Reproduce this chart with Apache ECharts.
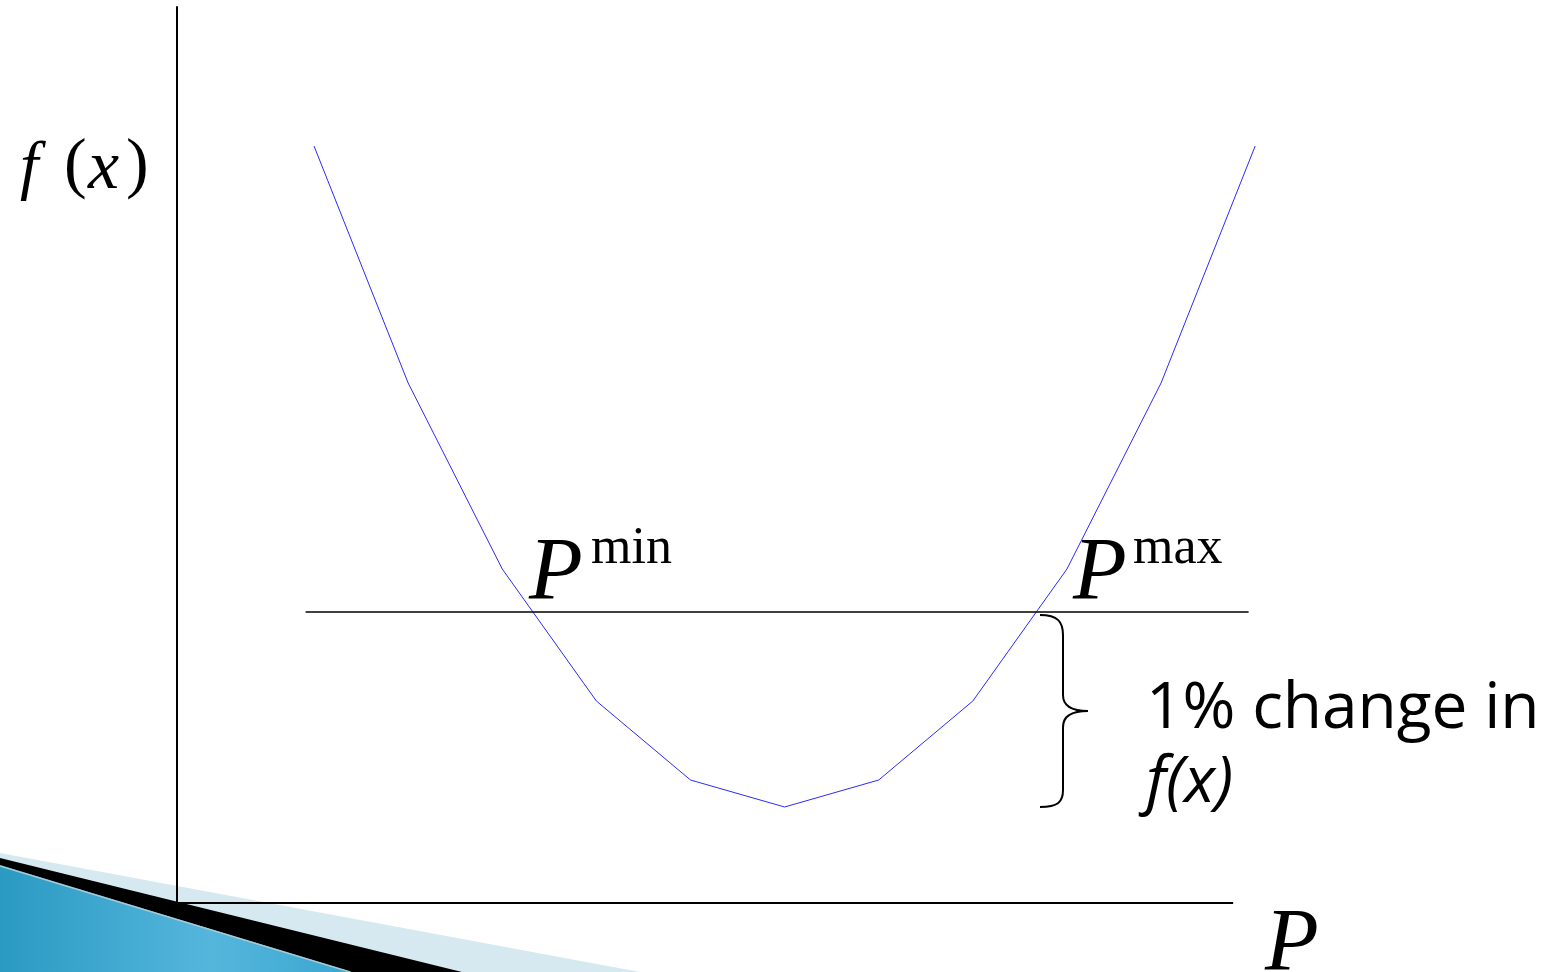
<!DOCTYPE html>
<html>
<head>
<meta charset="utf-8">
<script src="https://cdn.jsdelivr.net/npm/echarts@6/dist/echarts.min.js"></script>
<style>
  html, body { margin: 0; padding: 0; background: #fff; }
  #main { width: 1555px; height: 972px; }
</style>
</head>
<body>
<div id="main"></div>
<script>
// curve points, P measured from the centre of the dip
var pValues = [-5, -4, -3, -2, -1, 0, 1, 2, 3, 4, 5];
var fValues = [7.57, 5.20, 3.34, 2.02, 1.23, 0.96, 1.23, 2.02, 3.34, 5.20, 7.57];

// horizontal level line (1% above the minimum)
var levelX = [-5.09, 4.93];
var levelY = 2.91;

// the drawn P axis is shorter than the curve's reach
var pAxisStart = -6.456;
var pAxisEnd = 4.766;

var serif = '"Liberation Serif", "Times New Roman", serif';
var sans = '"Open Sans", "DejaVu Sans", sans-serif';

var chart = echarts.init(document.getElementById('main'));

function txt(x, y, s, size, family, italic) {
  return {
    type: 'text', x: x, y: y, z: 10,
    style: {
      text: s, fill: '#000', fontSize: size, fontFamily: family,
      fontStyle: italic ? 'italic' : 'normal',
      verticalAlign: 'middle', align: 'left'
    }
  };
}

function curve(x1, y1, cx1, cy1, cx2, cy2, x2, y2) {
  return {
    type: 'bezierCurve', z: 10,
    shape: { x1: x1, y1: y1, cpx1: cx1, cpy1: cy1, cpx2: cx2, cpy2: cy2, x2: x2, y2: y2 },
    style: { stroke: '#000', lineWidth: 2, fill: null }
  };
}

function seg(x1, y1, x2, y2) {
  return { type: 'line', z: 10, shape: { x1: x1, y1: y1, x2: x2, y2: y2 }, style: { stroke: '#000', lineWidth: 2 } };
}

var option = {
  animation: false,
  backgroundColor: '#fff',
  grid: { left: 177, right: 281, top: 7, bottom: 69 },
  xAxis: {
    type: 'value', min: pAxisStart, max: 5.2,
    axisLine: { show: false },
    axisTick: { show: false }, axisLabel: { show: false }, splitLine: { show: false }
  },
  yAxis: {
    type: 'value', min: 0, max: 8.96,
    axisLine: { onZero: false, lineStyle: { color: '#000', width: 2 } },
    axisTick: { show: false }, axisLabel: { show: false }, splitLine: { show: false }
  },
  series: [
    {
      name: 'P axis', type: 'line', symbol: 'none', z: 3,
      lineStyle: { color: '#000', width: 2 },
      data: [[pAxisStart, 0], [pAxisEnd, 0]]
    },
    {
      name: 'f(x)', type: 'line', symbol: 'none',
      lineStyle: { color: '#2a2aff', width: 1 },
      data: pValues.map(function (p, i) { return [p, fValues[i]]; })
    },
    {
      name: 'level', type: 'line', symbol: 'none',
      lineStyle: { color: '#000', width: 1.3 },
      data: levelX.map(function (p) { return [p, levelY]; })
    }
  ],
  graphic: [
    // decorative swoosh bottom-left
    { type: 'polygon', z: -1, shape: { points: [[0, 853], [640, 972], [0, 972]] }, style: { fill: '#d6e9f1' } },
    { type: 'polygon', z: -1, shape: { points: [[0, 858], [462, 972], [0, 972]] }, style: { fill: '#000' } },
    { type: 'polygon', z: -1, shape: { points: [[0, 865], [352, 972], [0, 972]] },
      style: { fill: new echarts.graphic.LinearGradient(0, 0, 1, 0, [
        { offset: 0, color: '#2a9ac3' }, { offset: 0.6, color: '#55b6dc' }, { offset: 1, color: '#3aa6cf' }]) } },
    { type: 'line', z: -1, shape: { x1: 0, y1: 866, x2: 350, y2: 972 }, style: { stroke: '#a9c9d4', lineWidth: 1.5 } },
    // brace
    curve(1040, 615, 1058, 615, 1063, 622, 1063, 635),
    seg(1063, 635, 1063, 695),
    curve(1063, 695, 1063, 706, 1072, 711, 1088, 711),
    curve(1088, 711, 1072, 711, 1063, 716, 1063, 727),
    seg(1063, 727, 1063, 790),
    curve(1063, 790, 1063, 802, 1058, 807, 1040, 807),
    // f(x) axis name
    txt(20, 170, 'f', 66, serif, true),
    txt(64, 167, '(', 68, serif, false),
    txt(88, 170, 'x', 70, serif, true),
    txt(126, 167, ')', 68, serif, false),
    // P min / P max
    txt(529, 575, 'P', 88, serif, true),
    txt(591, 549, 'min', 52, serif, false),
    txt(1073, 575, 'P', 88, serif, true),
    txt(1133, 549, 'max', 52, serif, false),
    // axis P
    txt(1265, 946, 'P', 88, serif, true),
    // brace note
    txt(1146, 710, '1% change in', 64, sans, false),
    txt(1146, 784, 'f(x)', 64, sans, true)
  ]
};

chart.setOption(option);
</script>
</body>
</html>
